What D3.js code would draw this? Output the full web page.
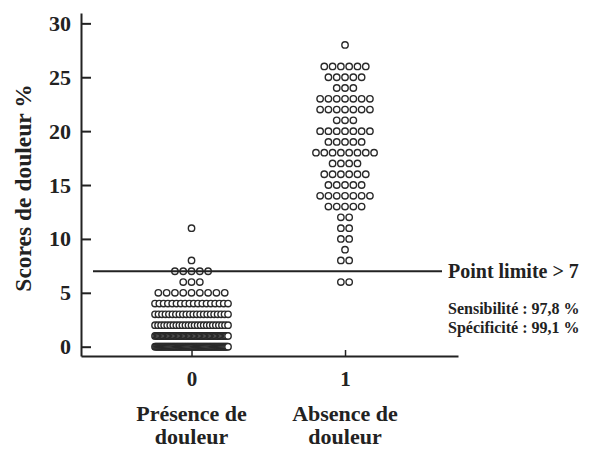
<!DOCTYPE html>
<html>
<head>
<meta charset="utf-8">
<script src="https://cdn.jsdelivr.net/npm/d3@7"></script>
<style>
  body { margin: 0; background: #fff; }
  svg { display: block; }
  text { font-family: "Liberation Serif", "Times New Roman", serif; font-weight: bold; fill: #222; }
</style>
</head>
<body>
<svg id="chart" width="595" height="452"></svg>
<script>
// ---- Data ----
const groups = [0, 1];
const groupLabels = [["Présence de", "douleur"], ["Absence de", "douleur"]];
// Group 0: score levels and number of subjects at each level
const scores0 = [0, 1, 2, 3, 4, 5, 6, 7, 8, 11];
const counts0 = [78, 60, 25, 22, 18, 9, 3, 5, 1, 1];
// Group 1
const scores1 = [6, 8, 9, 10, 11, 12, 13, 14, 15, 16, 17, 18, 19, 20, 21, 22, 23, 24, 25, 26, 28];
const counts1 = [2, 2, 1, 2, 2, 2, 5, 7, 5, 6, 4, 8, 5, 7, 3, 7, 7, 3, 5, 6, 1];
const yTicks = [0, 5, 10, 15, 20, 25, 30];
const cutoff = 7;
const cutoffLabel = "Point limite > 7";
const statsLines = ["Sensibilité : 97,8 %", "Spécificité : 99,1 %"];
const yTitle = "Scores de douleur %";

// ---- Scales ----
const svg = d3.select("#chart");
const y = d3.scaleLinear().domain([-0.863, 30.96]).range([356, 13]);
const x = d3.scaleLinear().domain([-0.72, 1.736]).range([81, 458]);

// ---- Axes ----
const yAxis = d3.axisLeft(y).tickValues(yTicks).tickSizeInner(-10).tickSizeOuter(0).tickPadding(10);
const gy = svg.append("g").attr("transform", "translate(81,0)").call(yAxis);
gy.select(".domain").attr("stroke", "#222").attr("stroke-width", 2);
gy.selectAll(".tick line").attr("stroke", "#222").attr("stroke-width", 2);
gy.selectAll(".tick text").attr("font-size", 22).attr("fill", "#222");

const xAxis = d3.axisBottom(x).tickValues(groups).tickSizeInner(-6).tickSizeOuter(0).tickPadding(15).tickFormat(d3.format("d"));
const gx = svg.append("g").attr("transform", "translate(0,356)").call(xAxis);
gx.select(".domain").attr("stroke", "#222").attr("stroke-width", 2);
gx.selectAll(".tick line").attr("stroke", "#222").attr("stroke-width", 1.5);
gx.selectAll(".tick text").attr("font-size", 21).attr("fill", "#222");

// ---- Points ----
function layout(g, scores, counts) {
  const pts = [];
  scores.forEach((s, k) => {
    const n = counts[k];
    const sp = n > 1 ? Math.min(8.3, 73 / (n - 1)) : 0;
    for (let i = 0; i < n; i++) pts.push({ g: g, v: s, off: (i - (n - 1) / 2) * sp });
  });
  return pts;
}
const points = layout(0, scores0, counts0).concat(layout(1, scores1, counts1));
svg.append("g").selectAll("circle").data(points).join("circle")
  .attr("cx", d => x(d.g) + d.off)
  .attr("cy", d => y(d.v))
  .attr("r", 3.2)
  .attr("fill", "#fff")
  .attr("stroke", "#2a2a2a")
  .attr("stroke-width", 1.4);

// ---- Cutoff line ----
svg.append("line")
  .attr("x1", 93).attr("x2", 442)
  .attr("y1", y(cutoff)).attr("y2", y(cutoff))
  .attr("stroke", "#222").attr("stroke-width", 2);
svg.append("text").attr("x", 448).attr("y", y(cutoff) + 7).attr("font-size", 20).text(cutoffLabel);
svg.append("text").attr("x", 448).attr("y", 314).attr("font-size", 16).text(statsLines[0]);
svg.append("text").attr("x", 448).attr("y", 333).attr("font-size", 16).text(statsLines[1]);

// ---- Category labels ----
groups.forEach((g, i) => {
  const t = svg.append("text").attr("text-anchor", "middle").attr("font-size", 22);
  groupLabels[i].forEach((line, j) => {
    t.append("tspan").attr("x", x(g)).attr("y", 421 + j * 23).text(line);
  });
});

// ---- Y title ----
svg.append("text")
  .attr("transform", "translate(31,188) rotate(-90)")
  .attr("text-anchor", "middle")
  .attr("font-size", 23.5)
  .text(yTitle);
</script>
</body>
</html>
